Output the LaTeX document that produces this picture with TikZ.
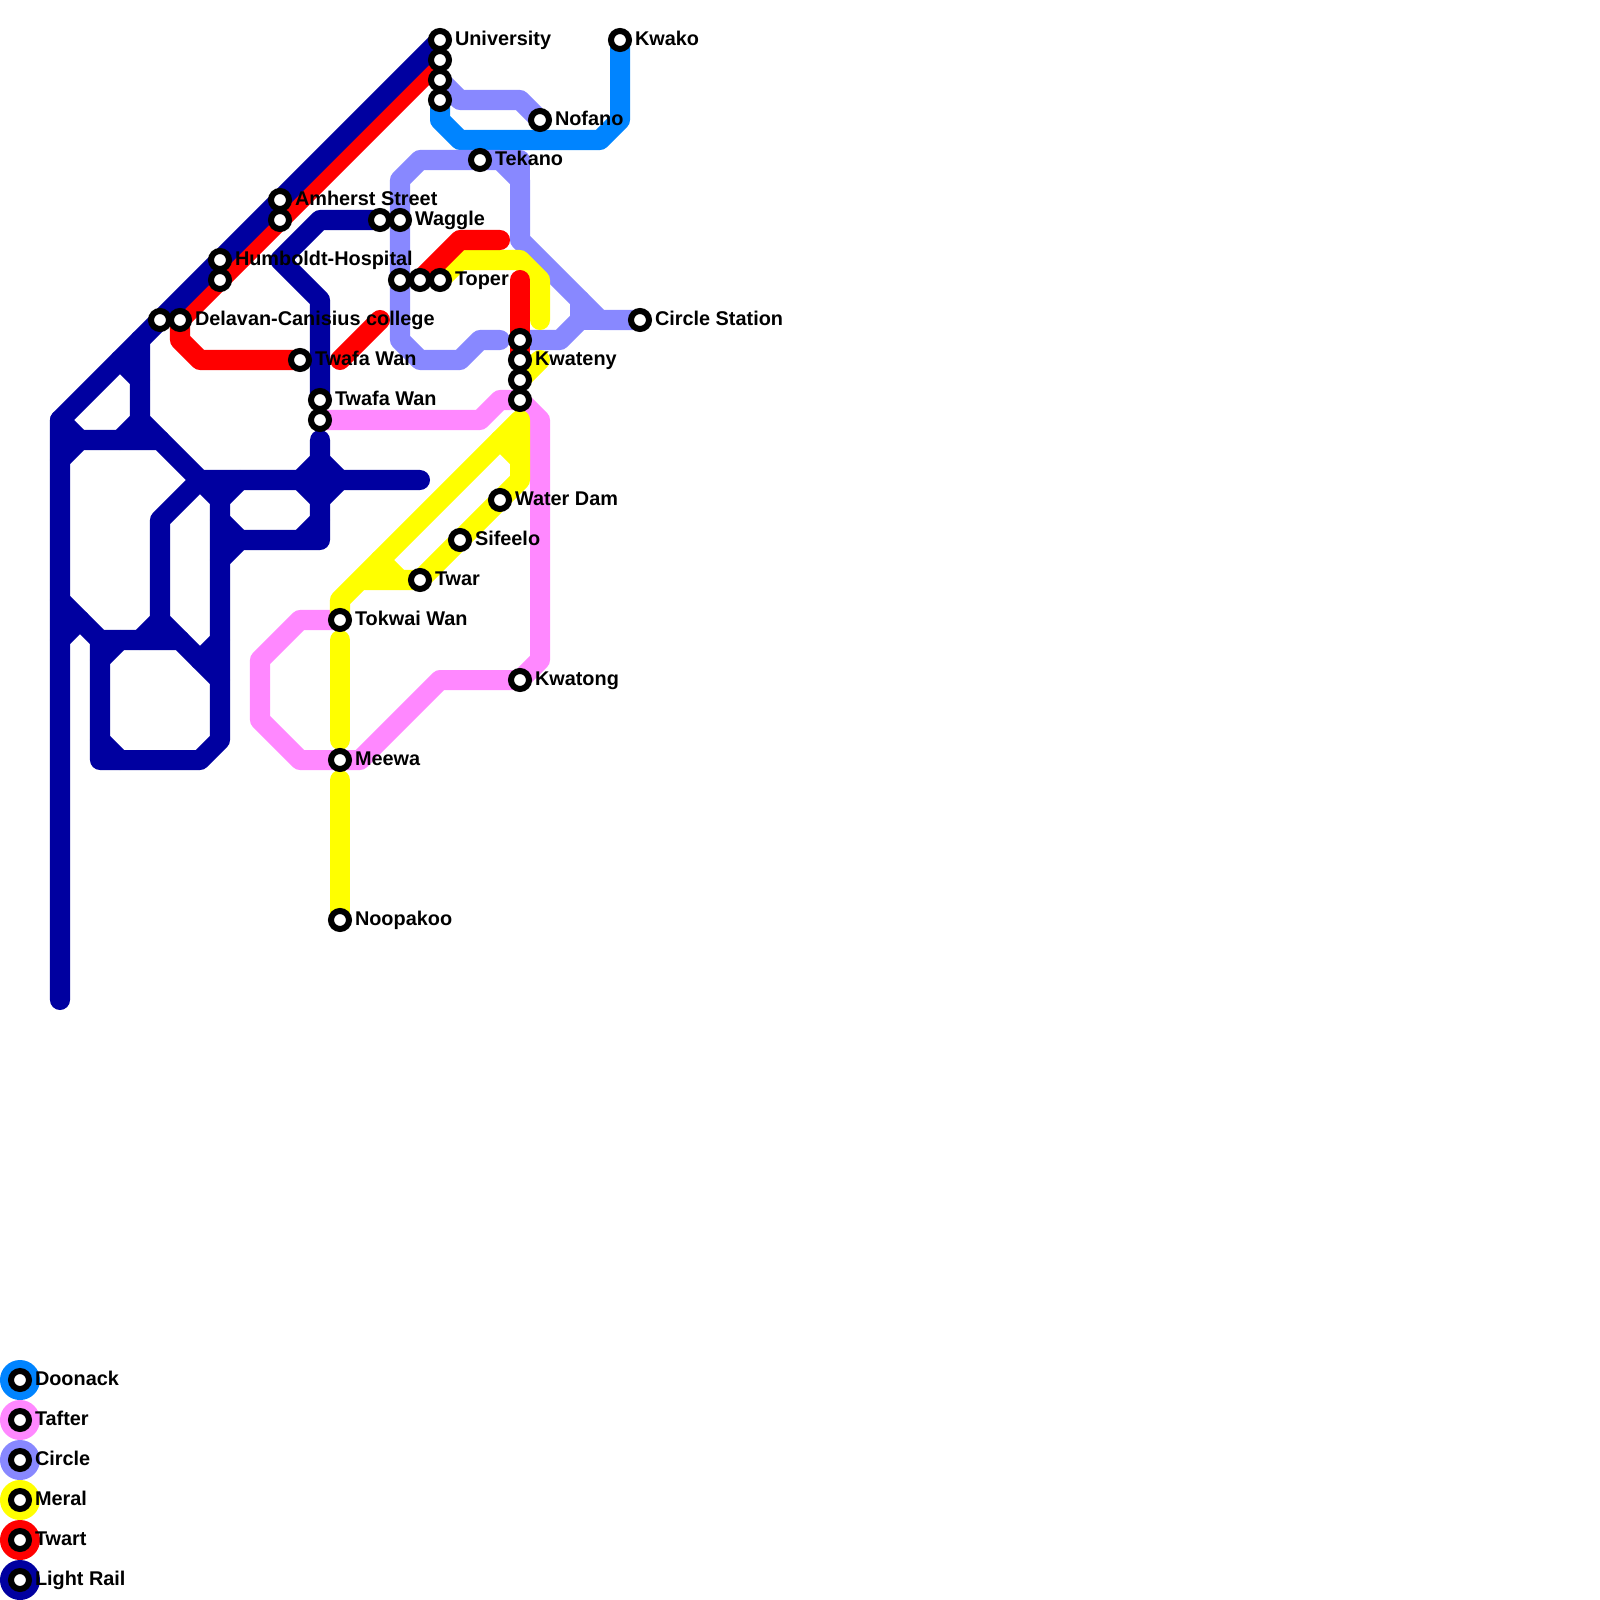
\documentclass[tikz,border=0pt]{standalone}
\usepackage{fontspec}
\setmainfont{Liberation Sans}
\pgfdeclarelayer{lines}
\pgfsetlayers{lines,main}
\definecolor{cDoonack}{HTML}{0084FF}
\definecolor{cTafter}{HTML}{FF88FF}
\definecolor{cCircle}{HTML}{8888FF}
\definecolor{cMeral}{HTML}{FFFF00}
\definecolor{cTwart}{HTML}{FF0000}
\definecolor{cLight}{HTML}{0000A0}
\tikzset{
  metro/.style={line width=0.2cm,line cap=round,line join=round},
  station/.style={circle,draw=black,fill=white,line width=0.06cm,minimum size=0.18cm,inner sep=0pt},
  lbl/.style={anchor=base west,inner sep=0pt,outer sep=0pt,text=black,font=\bfseries\fontsize{5.65}{7}\selectfont},
  legdot/.style={circle,minimum size=0.4cm,inner sep=0pt,outer sep=0pt,fill=#1}
}
\newcommand{\stn}[3]{\node[station] (#1) at (#2) {};%
  \if\relax\detokenize{#3}\relax\else\node[lbl] (#1-l) at ([shift={(15,5.5)}]#1.center) {#3};\fi}
\newcommand{\leg}[3]{\node[legdot=#2] (#1-d) at (20,#3) {};\node[station] (#1) at (20,#3) {};%
  \node[lbl] (#1-l) at ([shift={(15,5.5)}]#1.center) {\csname leg#1\endcsname};}
\begin{document}
\begin{tikzpicture}[x=0.01cm,y=-0.01cm]
\useasboundingbox (0,0) rectangle (1600,1600);
% stations
\stn{uni}{440,40}{University}
\stn{uniB}{440,60}{}
\stn{uniC}{440,80}{}
\stn{uniD}{440,100}{}
\stn{kwako}{620,40}{Kwako}
\stn{nofano}{540,120}{Nofano}
\stn{tekano}{480,160}{Tekano}
\stn{amherst}{280,200}{Amherst Street}
\stn{amherstB}{280,220}{}
\stn{waggleB}{380,220}{}
\stn{waggle}{400,220}{Waggle}
\stn{humboldt}{220,260}{Humboldt-Hospital}
\stn{humboldtB}{220,280}{}
\stn{toperC}{400,280}{}
\stn{toperB}{420,280}{}
\stn{toper}{440,280}{Toper}
\stn{delavanB}{160,320}{}
\stn{delavan}{180,320}{Delavan-Canisius college}
\stn{circlest}{640,320}{Circle Station}
\stn{kwatenyB}{520,340}{}
\stn{kwateny}{520,360}{Kwateny}
\stn{kwatenyC}{520,380}{}
\stn{kwatenyD}{520,400}{}
\stn{twafaA}{300,360}{Twafa Wan}
\stn{twafaB}{320,400}{Twafa Wan}
\stn{twafaC}{320,420}{}
\stn{waterdam}{500,500}{Water Dam}
\stn{sifeelo}{460,540}{Sifeelo}
\stn{twar}{420,580}{Twar}
\stn{tokwai}{340,620}{Tokwai Wan}
\stn{kwatong}{520,680}{Kwatong}
\stn{meewa}{340,760}{Meewa}
\stn{noopakoo}{340,920}{Noopakoo}
% legend
\def\legdoonack{Doonack}\def\legtafter{Tafter}\def\legcircle{Circle}
\def\legmeral{Meral}\def\legtwart{Twart}\def\leglight{Light Rail}
\leg{doonack}{cDoonack}{1380}
\leg{tafter}{cTafter}{1420}
\leg{circle}{cCircle}{1460}
\leg{meral}{cMeral}{1500}
\leg{twart}{cTwart}{1540}
\leg{light}{cLight}{1580}
\begin{pgfonlayer}{lines}
% Doonack
\draw[metro,cDoonack] (uniD.center) -- (440,120) -- (460,140) -- (600,140) -- (620,120) -- (kwako.center);
% Tafter
\draw[metro,cTafter] (twafaC.center) -- (480,420) -- (500,400) -- (kwatenyD.center) -- (540,420) -- (540,660) -- (kwatong.center)
  -- (440,680) -- (360,760) -- (meewa.center) -- (300,760) -- (260,720) -- (260,660) -- (300,620) -- (tokwai.center);
% Circle
\draw[metro,cCircle] (uniC.center) -- (460,100) -- (520,100) -- (nofano.center);
\draw[metro,cCircle] (tekano.center) -- (420,160) -- (400,180) -- (400,340) -- (420,360) -- (460,360) -- (480,340) -- (500,340);
\draw[metro,cCircle] (tekano.center) -- (500,160) -- (520,180) -- (520,240) -- (600,320) -- (circlest.center);
\draw[metro,cCircle] (tekano.center) -- (520,160) -- (520,180);
\draw[metro,cCircle] (kwatenyB.center) -- (560,340) -- (580,320) -- (580,300);
\draw[metro,cCircle] (580,320) -- (600,320);
% Meral
\draw[metro,cMeral] (toper.center) -- (460,260) -- (520,260) -- (540,280) -- (540,320);
\draw[metro,cMeral] (kwatenyC.center) -- (540,360);
\draw[metro,cMeral] (tokwai.center) -- (340,600) -- (520,420) -- (520,480) -- (waterdam.center) -- (sifeelo.center) -- (twar.center) -- (360,580) -- (340,600);
\draw[metro,cMeral] (500,440) -- (520,460);
\draw[metro,cMeral] (380,560) -- (400,580);
\draw[metro,cMeral] (340,640) -- (340,740);
\draw[metro,cMeral] (340,780) -- (noopakoo.center);
% Twart
\draw[metro,cTwart] (uniB.center) -- (delavan.center) -- (180,340) -- (200,360) -- (twafaA.center);
\draw[metro,cTwart] (340,360) -- (380,320);
\draw[metro,cTwart] (toperB.center) -- (460,240) -- (500,240);
\draw[metro,cTwart] (520,280) -- (kwateny.center);
% Light Rail
\draw[metro,cLight] (60,1000) -- (60,420) -- (uni.center);
\draw[metro,cLight] (60,460) -- (80,440) -- (160,440) -- (200,480) -- (420,480);
\draw[metro,cLight] (60,420) -- (80,440);
\draw[metro,cLight] (140,340) -- (140,420) -- (160,440);
\draw[metro,cLight] (120,360) -- (140,380);
\draw[metro,cLight] (140,420) -- (120,440);
\draw[metro,cLight] (60,600) -- (100,640) -- (180,640) -- (220,680);
\draw[metro,cLight] (60,640) -- (80,620);
\draw[metro,cLight] (100,660) -- (120,640);
\draw[metro,cLight] (100,640) -- (100,760) -- (200,760) -- (220,740) -- (220,500) -- (200,480) -- (160,520) -- (160,620) -- (180,640);
\draw[metro,cLight] (100,740) -- (120,760);
\draw[metro,cLight] (160,620) -- (140,640);
\draw[metro,cLight] (200,660) -- (220,640);
\draw[metro,cLight] (220,500) -- (240,480);
\draw[metro,cLight] (220,520) -- (240,540);
\draw[metro,cLight] (220,560) -- (240,540) -- (320,540) -- (320,440);
\draw[metro,cLight] (300,480) -- (320,500);
\draw[metro,cLight] (300,540) -- (320,520);
\draw[metro,cLight] (300,480) -- (320,460) -- (340,480) -- (320,500);
\draw[metro,cLight] (waggleB.center) -- (320,220) -- (280,260) -- (320,300) -- (twafaB.center);
\end{pgfonlayer}
\end{tikzpicture}
\end{document}
